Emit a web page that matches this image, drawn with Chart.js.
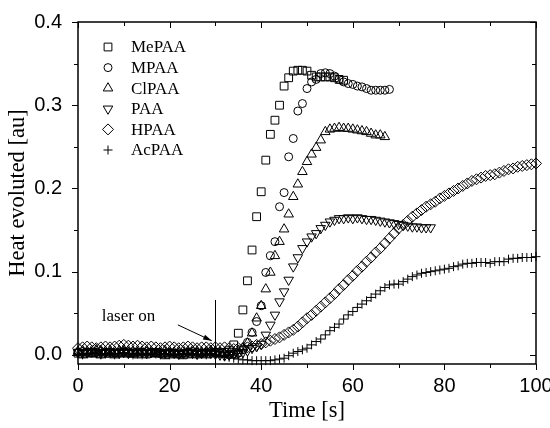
<!DOCTYPE html>
<html>
<head>
<meta charset="utf-8">
<script src="https://cdn.jsdelivr.net/npm/chart.js@4.4.0/dist/chart.umd.min.js"></script>
<style>
  html, body { margin: 0; padding: 0; background: #fff; }
  #wrap { width: 550px; height: 428px; }
</style>
</head>
<body>
<div id="wrap"><canvas id="heatChart" width="550" height="428"></canvas></div>
<script>
// time axis, one reading per second
const timeS = [0,1,2,3,4,5,6,7,8,9,10,11,12,13,14,15,16,17,18,19,20,21,22,23,24,25,26,27,28,29,
  30,31,32,33,34,35,36,37,38,39,40,41,42,43,44,45,46,47,48,49,50,51,52,53,54,55,56,57,58,59,
  60,61,62,63,64,65,66,67,68,69,70,71,72,73,74,75,76,77,78,79,80,81,82,83,84,85,86,87,88,89,
  90,91,92,93,94,95,96,97,98,99,100];

const seriesNames = ['MePAA', 'MPAA', 'ClPAA', 'PAA', 'HPAA', 'AcPAA'];

const mepaa = [0.002,0.001,0.002,0.003,0.002,0.001,0.002,0.002,0.001,0.002,
  0.003,0.002,0.002,0.001,0.002,0.001,0.002,0.003,0.002,0.000,
  0.001,0.002,0.001,0.000,0.001,0.002,0.001,0.002,0.001,0.002,
  0.003,0.002,0.003,
  0.005,0.012,0.026,0.054,0.089,0.126,0.166,0.196,0.234,0.265,
  0.282,0.300,0.323,0.333,0.341,0.342,0.342,0.341,0.336,0.334,
  0.334,0.334,0.334,0.333,0.331,0.330];

const mpaa = [0.003,0.004,0.003,0.002,0.003,0.004,0.003,0.003,0.002,0.003,
  0.004,0.003,0.002,0.003,0.003,0.004,0.003,0.002,0.001,0.002,
  0.003,0.002,0.001,0.002,0.003,0.004,0.003,0.002,0.003,0.004,
  0.003,0.002,0.001,0.000,0.001,0.002,
  0.006,0.015,0.027,0.040,0.059,0.099,0.119,0.136,0.178,0.195,
  0.238,0.260,0.293,0.302,0.320,0.328,0.331,0.338,0.339,0.338,
  0.335,0.331,0.328,0.326,0.325,0.323,0.322,0.320,0.318,0.318,
  0.318,0.318,0.319];

const clpaa = [0.004,0.005,0.004,0.005,0.006,0.005,0.004,0.005,0.004,0.005,
  0.006,0.005,0.004,0.005,0.004,0.005,0.004,0.003,0.004,0.005,
  0.004,0.003,0.004,0.005,0.004,0.005,0.004,0.003,0.004,0.005,
  0.004,0.003,0.002,0.002,0.003,0.005,
  0.008,0.014,0.026,0.044,0.059,0.079,0.099,0.119,0.136,0.151,
  0.169,0.190,0.205,0.220,0.232,0.241,0.249,0.258,0.268,0.271,
  0.272,0.273,0.272,0.272,0.271,0.270,0.269,0.268,0.266,0.264,
  0.264,0.262];

const paa = [0.003,0.002,0.003,0.004,0.003,0.002,0.003,0.004,0.003,0.002,
  0.003,0.002,0.003,0.004,0.003,0.002,0.003,0.004,0.003,0.002,
  0.003,0.002,0.001,0.002,0.003,0.002,0.001,0.002,0.003,0.002,
  0.001,0.000,-0.001,0.000,0.001,0.002,0.003,0.005,0.008,0.010,
  0.013,0.024,0.036,0.048,0.064,0.076,0.090,0.106,0.117,0.128,
  0.136,0.142,0.146,0.152,0.156,0.160,0.162,0.164,0.164,0.165,
  0.164,0.165,0.164,0.163,0.163,0.162,0.161,0.160,0.159,0.158,
  0.157,0.156,0.155,0.154,0.154,0.153,0.153,0.153];

const hpaa = [0.008,0.009,0.010,0.009,0.008,0.009,0.010,0.009,0.010,0.011,
  0.012,0.011,0.010,0.011,0.010,0.009,0.010,0.009,0.008,0.009,
  0.010,0.009,0.008,0.009,0.010,0.009,0.008,0.009,0.009,0.008,
  0.009,0.008,0.009,0.008,0.007,0.008,
  0.008,0.009,0.010,0.012,0.013,0.015,0.017,0.019,0.021,0.024,
  0.027,0.030,0.034,0.039,0.044,0.048,0.053,0.058,0.063,0.068,
  0.073,0.079,0.084,0.090,0.095,0.101,0.106,0.112,0.117,0.123,
  0.128,0.134,0.140,0.146,0.152,0.156,0.161,0.166,0.170,0.174,
  0.178,0.181,0.184,0.188,0.191,0.194,0.197,0.200,0.203,0.206,
  0.209,0.211,0.213,0.215,0.216,0.217,0.219,0.221,0.223,0.224,
  0.226,0.227,0.228,0.229,0.230];

const acpaa = [0.001,0.000,0.001,0.002,0.001,0.000,0.001,0.001,0.000,0.001,
  0.002,0.001,0.000,0.001,0.000,0.001,0.002,0.001,0.000,0.001,
  0.000,0.001,0.000,0.001,0.002,0.001,0.000,0.001,0.000,0.001,
  0.000,-0.001,-0.002,-0.003,-0.004,-0.005,-0.006,-0.006,-0.007,-0.007,
  -0.007,-0.007,-0.007,-0.006,-0.005,-0.004,-0.001,0.002,0.004,0.006,
  0.008,0.012,0.016,0.019,0.024,0.029,0.033,0.037,0.043,0.048,
  0.052,0.057,0.061,0.065,0.069,0.073,0.077,0.081,0.084,0.085,
  0.085,0.088,0.091,0.094,0.096,0.098,0.099,0.100,0.101,0.102,
  0.103,0.104,0.106,0.107,0.109,0.110,0.110,0.111,0.111,0.111,
  0.110,0.112,0.112,0.112,0.115,0.116,0.116,0.117,0.117,0.117,
  0.118];

const xMajor = [0, 20, 40, 60, 80, 100];
const xMinor = [10, 30, 50, 70, 90];
const yMajor = [0, 0.1, 0.2, 0.3, 0.4];
const yMinor = [0.05, 0.15, 0.25, 0.35];

const serif = '"Liberation Serif", "Times New Roman", serif';
const sans = '"Liberation Sans", Arial, sans-serif';

function toPoints(vals) {
  return vals.map((v, i) => ({ x: timeS[i], y: v }));
}

function makeSet(label, vals, style, radius, rotation) {
  return {
    label: label,
    data: toPoints(vals),
    pointStyle: style,
    pointRadius: radius,
    pointRotation: rotation || 0,
    pointBorderColor: '#000',
    pointBackgroundColor: 'rgba(0,0,0,0)',
    pointBorderWidth: 1,
    showLine: false,
    clip: false
  };
}

// frame, mirrored ticks, legend and the "laser on" note
const decorations = {
  id: 'decorations',
  afterDatasetsDraw(chart) {
    const { ctx, chartArea: a, scales: { x, y } } = chart;
    ctx.save();
    ctx.strokeStyle = '#000';
    ctx.lineWidth = 1.5;
    ctx.strokeRect(a.left, a.top, a.right - a.left, a.bottom - a.top);

    ctx.lineWidth = 1;
    ctx.beginPath();
    const tickX = (v, len) => {
      const px = Math.round(x.getPixelForValue(v)) + 0.5;
      ctx.moveTo(px, a.bottom); ctx.lineTo(px, a.bottom + len);
      ctx.moveTo(px, a.top); ctx.lineTo(px, a.top + len);
    };
    const tickY = (v, len) => {
      const py = Math.round(y.getPixelForValue(v)) + 0.5;
      ctx.moveTo(a.left, py); ctx.lineTo(a.left - len, py);
      ctx.moveTo(a.right, py); ctx.lineTo(a.right - len, py);
    };
    xMajor.forEach(v => tickX(v, 6));
    xMinor.forEach(v => tickX(v, 4));
    yMajor.forEach(v => tickY(v, 6));
    yMinor.forEach(v => tickY(v, 4));
    ctx.stroke();

    // laser on marker
    const lx = Math.round(x.getPixelForValue(30)) + 0.5;
    ctx.beginPath();
    ctx.moveTo(lx, y.getPixelForValue(0.066));
    ctx.lineTo(lx, a.bottom);
    ctx.stroke();

    const ax0 = x.getPixelForValue(21.8), ay0 = y.getPixelForValue(0.036);
    const ax1 = x.getPixelForValue(29.2), ay1 = y.getPixelForValue(0.017);
    const ang = Math.atan2(ay1 - ay0, ax1 - ax0);
    ctx.beginPath();
    ctx.moveTo(ax0, ay0);
    ctx.lineTo(ax1, ay1);
    ctx.stroke();
    ctx.beginPath();
    ctx.moveTo(ax1, ay1);
    ctx.lineTo(ax1 - 9 * Math.cos(ang - 0.3), ay1 - 9 * Math.sin(ang - 0.3));
    ctx.lineTo(ax1 - 9 * Math.cos(ang + 0.3), ay1 - 9 * Math.sin(ang + 0.3));
    ctx.closePath();
    ctx.fillStyle = '#000';
    ctx.fill();

    ctx.font = '17px ' + serif;
    ctx.textAlign = 'left';
    ctx.textBaseline = 'alphabetic';
    ctx.fillText('laser on', x.getPixelForValue(5.2), y.getPixelForValue(0.041));

    // legend
    chart.data.datasets.forEach((ds, i) => {
      const cy = 47 + i * 20.6;
      ctx.strokeStyle = '#000';
      ctx.fillStyle = 'rgba(0,0,0,0)';
      ctx.lineWidth = 1;
      Chart.helpers.drawPoint(ctx, {
        pointStyle: ds.pointStyle,
        rotation: ds.pointRotation,
        radius: ds.pointRadius,
        borderWidth: 1
      }, 108, cy);
      ctx.fillStyle = '#000';
      ctx.textBaseline = 'middle';
      ctx.fillText(ds.label, 131, cy + 1);
    });
    ctx.restore();
  }
};

new Chart(document.getElementById('heatChart').getContext('2d'), {
  type: 'scatter',
  data: {
    datasets: [
      makeSet(seriesNames[0], mepaa, 'rect', 5.5),
      makeSet(seriesNames[1], mpaa, 'circle', 4),
      makeSet(seriesNames[2], clpaa, 'triangle', 5.5),
      makeSet(seriesNames[3], paa, 'triangle', 5.5, 180),
      makeSet(seriesNames[4], hpaa, 'rectRot', 5.5),
      makeSet(seriesNames[5], acpaa, 'cross', 4.5)
    ]
  },
  options: {
    responsive: false,
    animation: false,
    layout: { padding: { top: 22, right: 14, left: 0, bottom: 0 } },
    plugins: {
      legend: { display: false },
      tooltip: { enabled: false }
    },
    scales: {
      x: {
        type: 'linear',
        min: 0,
        max: 100,
        afterBuildTicks: s => { s.ticks = xMajor.map(v => ({ value: v })); },
        afterFit: s => { s.height = 64; s.paddingLeft = 0; s.paddingRight = 0; },
        grid: { display: false, drawTicks: false },
        border: { display: false },
        ticks: { color: '#000', padding: 10, maxRotation: 0, font: { family: sans, size: 20 } },
        title: {
          display: true,
          text: 'Time [s]',
          color: '#000',
          font: { family: serif, size: 22.5 },
          padding: { top: 0, bottom: 3 }
        }
      },
      y: {
        type: 'linear',
        min: -0.011,
        max: 0.4,
        afterBuildTicks: s => { s.ticks = yMajor.map(v => ({ value: v })); },
        afterFit: s => { s.width = 78; s.paddingTop = 0; s.paddingBottom = 0; },
        grid: { display: false, drawTicks: false },
        border: { display: false },
        ticks: {
          color: '#000',
          padding: 16,
          font: { family: sans, size: 20 },
          callback: v => v.toFixed(1)
        },
        title: {
          display: true,
          text: 'Heat evoluted [au]',
          color: '#000',
          font: { family: serif, size: 22.5 },
          padding: { top: 5, bottom: 0 }
        }
      }
    }
  },
  plugins: [decorations]
});
</script>
</body>
</html>
